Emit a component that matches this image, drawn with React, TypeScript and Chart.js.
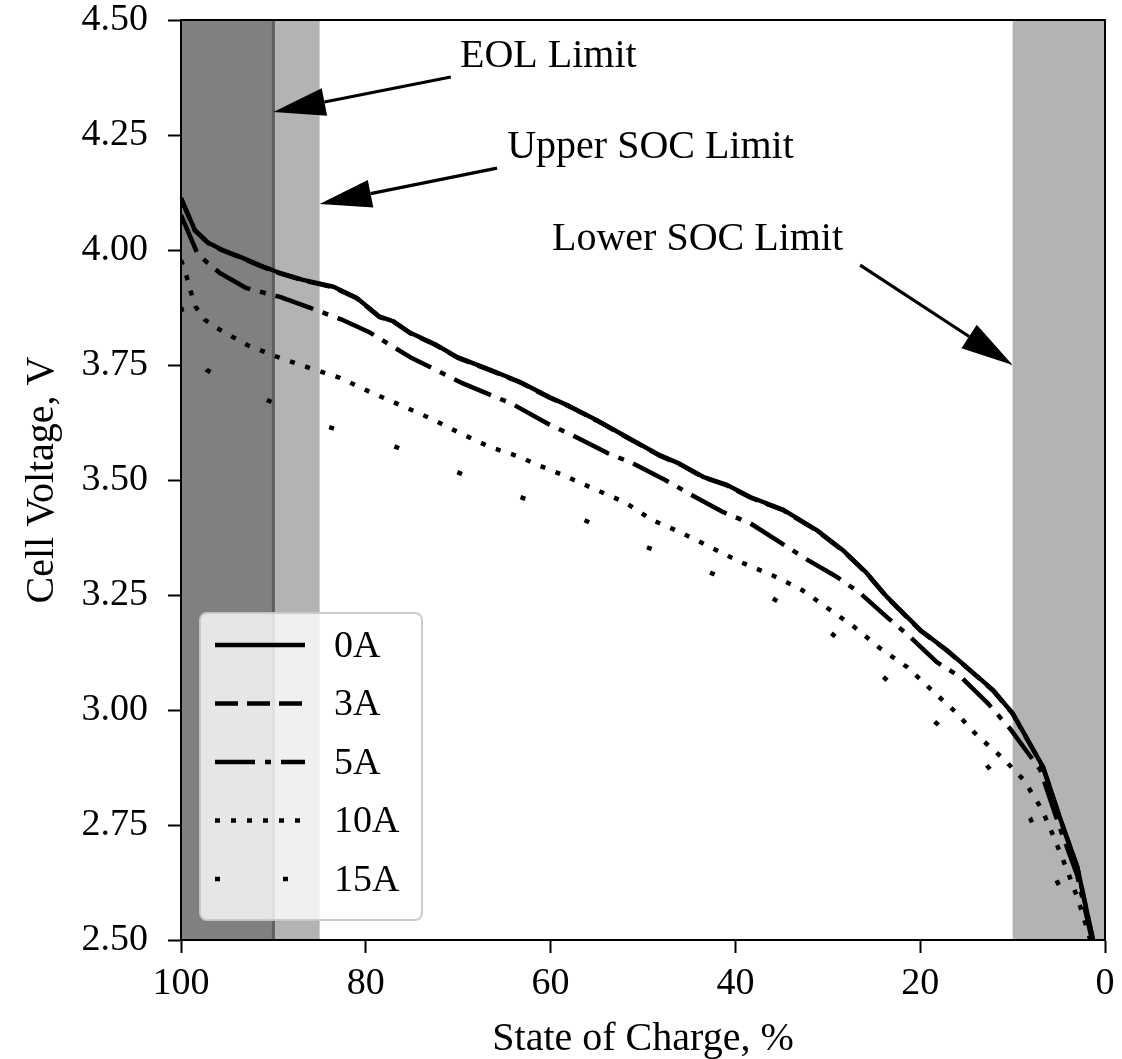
import React, { useEffect, useRef } from 'react';
import { Chart, registerables } from 'chart.js';

Chart.register(...registerables);

// ---------------- data ----------------
const seriesLabels = ['0A', '3A', '5A', '10A', '15A'];

const soc0A = [100, 98.5, 97, 95.5, 93.6, 91.5, 89.3, 86.8, 83.5, 81, 78.5, 77, 75.2, 72.5, 70.1, 66.6, 63.3, 60.1, 57.9, 55, 51.7, 48.2, 46, 43.5, 41, 38.4, 34.8, 31.2, 28.4, 25.8, 23.6, 20, 17.1, 14.5, 12.1, 10, 8.5, 6.7, 4.9, 3.0, 1.3];
const volt0A = [4.113, 4.043, 4.015, 4.0, 3.985, 3.967, 3.95, 3.935, 3.92, 3.896, 3.855, 3.845, 3.82, 3.795, 3.767, 3.74, 3.713, 3.68, 3.66, 3.63, 3.593, 3.554, 3.535, 3.507, 3.49, 3.463, 3.435, 3.391, 3.348, 3.298, 3.246, 3.174, 3.13, 3.085, 3.043, 2.993, 2.94, 2.876, 2.767, 2.659, 2.5];

const soc3A = [100, 98.5, 97, 95.5, 93.6, 91.5, 89.3, 86.8, 83.5, 81, 78.5, 77, 75.2, 72.5, 70.1, 66.6, 63.3, 60.1, 57.9, 55, 51.7, 48.2, 46, 43.5, 41, 38.4, 34.8, 31.2, 28.4, 25.8, 23.6, 20, 17.1, 14.5, 12.1, 10, 8.5, 6.7, 4.9, 3.0, 1.3];
const volt3A = [4.112, 4.042, 4.014, 3.999, 3.984, 3.966, 3.949, 3.934, 3.919, 3.895, 3.854, 3.844, 3.819, 3.794, 3.766, 3.739, 3.712, 3.679, 3.659, 3.629, 3.592, 3.553, 3.534, 3.506, 3.489, 3.462, 3.434, 3.39, 3.347, 3.297, 3.245, 3.173, 3.129, 3.084, 3.042, 2.992, 2.939, 2.875, 2.766, 2.658, 2.5];

const soc5A = [100, 98.3, 97.3, 95.8, 92.9, 89.3, 86, 82.5, 79.5, 75.2, 72, 69.5, 65.2, 64.3, 60.1, 57.7, 53.9, 51.2, 47.6, 44.7, 41.3, 38.4, 35.2, 32.5, 29, 26.5, 23.6, 21.1, 18.2, 15.5, 12.7, 10.3, 8.1, 7.0, 5.0, 3.0, 1.4];
const volt5A = [4.076, 3.996, 3.975, 3.95, 3.917, 3.898, 3.874, 3.848, 3.82, 3.767, 3.735, 3.71, 3.674, 3.667, 3.62, 3.598, 3.559, 3.537, 3.5, 3.467, 3.43, 3.406, 3.365, 3.33, 3.289, 3.254, 3.202, 3.159, 3.104, 3.07, 3.015, 2.96, 2.9, 2.87, 2.75, 2.64, 2.5];

const soc10A = [100, 99.4, 99, 98.4, 97.4, 95.9, 94.4, 92.8, 89.5, 86, 82.8, 79.5, 76.3, 73.1, 69.8, 66.6, 63.3, 61.9, 58.7, 55, 52, 49, 45.8, 42.5, 39.5, 36, 32.8, 27.1, 24.4, 21.4, 18.9, 16.2, 13.9, 11.1, 8.8, 6.8, 5.4, 4.1, 2.9, 1.8, 1.6];
const volt10A = [3.978, 3.943, 3.913, 3.876, 3.848, 3.828, 3.811, 3.793, 3.767, 3.743, 3.722, 3.691, 3.663, 3.635, 3.602, 3.572, 3.55, 3.537, 3.511, 3.478, 3.452, 3.413, 3.385, 3.352, 3.322, 3.293, 3.261, 3.18, 3.135, 3.093, 3.046, 2.996, 2.946, 2.896, 2.848, 2.783, 2.717, 2.652, 2.587, 2.515, 2.5];

const soc15A = [100, 99, 98, 97.2, 94, 90.7, 84, 77, 70.1, 63.3, 56.4, 49.6, 42.9, 36, 29.8, 24, 18.4, 12.8, 8.1, 5.2, 2.0];
const volt15A = [3.876, 3.8, 3.76, 3.739, 3.705, 3.674, 3.615, 3.574, 3.517, 3.463, 3.413, 3.354, 3.3, 3.243, 3.17, 3.072, 2.974, 2.88, 2.765, 2.628, 2.5];

const xTickValues = [100, 80, 60, 40, 20, 0];
const yTickValues = [2.5, 2.75, 3.0, 3.25, 3.5, 3.75, 4.0, 4.25, 4.5];

// limits (SOC %)
const eolLimit = 90;
const upperSocLimit = 85;
const lowerSocLimit = 10;

// annotations: text anchor, arrow tail and arrow tip in data coordinates
const annotationTexts = ['EOL Limit', 'Upper SOC Limit', 'Lower SOC Limit'];
const annotationTextSoc = [69.8, 64.7, 59.85];
const annotationTextVolt = [4.398, 4.2, 4.0];
const arrowTailSoc = [70.8, 65.8, 26.5];
const arrowTailVolt = [4.376, 4.178, 3.967];
const arrowTipSoc = [eolLimit, upperSocLimit, lowerSocLimit];
const arrowTipVolt = [4.3, 4.1, 3.75];

// ---------------- styles ----------------
const FONT = "'Liberation Serif', 'Times New Roman', Times, serif";
const LW = 4.5;
const dashes: number[][] = [[], [23, 9], [40, 10, 6, 10], [5, 11], [5, 63]];

const seriesSoc = [soc0A, soc3A, soc5A, soc10A, soc15A];
const seriesVolt = [volt0A, volt3A, volt5A, volt10A, volt15A];

const regionsPlugin = {
  id: 'regions',
  beforeDatasetsDraw(chart: any) {
    const { ctx, chartArea: ca, scales } = chart;
    const x = scales.x;
    ctx.save();
    const fill = (a: number, b: number, color: string) => {
      const x0 = x.getPixelForValue(a);
      const x1 = x.getPixelForValue(b);
      ctx.fillStyle = color;
      ctx.fillRect(Math.min(x0, x1), ca.top, Math.abs(x1 - x0), ca.bottom - ca.top);
    };
    fill(100, upperSocLimit, '#b3b3b3');
    fill(100, eolLimit, '#808080');
    fill(lowerSocLimit, 0, '#b3b3b3');
    const xe = x.getPixelForValue(eolLimit);
    ctx.strokeStyle = '#5e5e5e';
    ctx.lineWidth = 3;
    ctx.beginPath();
    ctx.moveTo(xe, ca.top);
    ctx.lineTo(xe, ca.bottom);
    ctx.stroke();
    ctx.restore();
  },
};

function drawArrow(ctx: CanvasRenderingContext2D, x0: number, y0: number, x1: number, y1: number) {
  const ang = Math.atan2(y1 - y0, x1 - x0);
  const headLen = 52;
  const headHalf = 14;
  const bx = x1 - headLen * Math.cos(ang);
  const by = y1 - headLen * Math.sin(ang);
  ctx.strokeStyle = '#000';
  ctx.lineWidth = 3.2;
  ctx.lineCap = 'butt';
  ctx.beginPath();
  ctx.moveTo(x0, y0);
  ctx.lineTo(bx, by);
  ctx.stroke();
  ctx.fillStyle = '#000';
  ctx.beginPath();
  ctx.moveTo(x1, y1);
  ctx.lineTo(bx + headHalf * Math.sin(ang), by - headHalf * Math.cos(ang));
  ctx.lineTo(bx - headHalf * Math.sin(ang), by + headHalf * Math.cos(ang));
  ctx.closePath();
  ctx.fill();
}

const overlayPlugin = {
  id: 'overlay',
  afterDatasetsDraw(chart: any) {
    const { ctx, chartArea: ca, scales } = chart;
    const x = scales.x;
    const y = scales.y;
    ctx.save();
    // frame
    ctx.strokeStyle = '#000';
    ctx.lineWidth = 2;
    ctx.strokeRect(ca.left, ca.top, ca.right - ca.left, ca.bottom - ca.top);

    // annotations
    ctx.font = `40px ${FONT}`;
    ctx.textAlign = 'left';
    ctx.textBaseline = 'alphabetic';
    for (let i = 0; i < annotationTexts.length; i++) {
      ctx.fillStyle = '#000';
      ctx.fillText(annotationTexts[i], x.getPixelForValue(annotationTextSoc[i]), y.getPixelForValue(annotationTextVolt[i]));
      drawArrow(
        ctx,
        x.getPixelForValue(arrowTailSoc[i]),
        y.getPixelForValue(arrowTailVolt[i]),
        x.getPixelForValue(arrowTipSoc[i]),
        y.getPixelForValue(arrowTipVolt[i])
      );
    }

    // legend
    const bx = ca.left + 19;
    const bw = 222;
    const bh = 307;
    const by = ca.bottom - 20 - bh;
    ctx.beginPath();
    ctx.roundRect(bx, by, bw, bh, 7);
    ctx.fillStyle = 'rgba(255,255,255,0.8)';
    ctx.fill();
    ctx.strokeStyle = 'rgba(200,200,200,0.9)';
    ctx.lineWidth = 2;
    ctx.stroke();
    ctx.font = `38px ${FONT}`;
    ctx.textBaseline = 'middle';
    for (let i = 0; i < seriesLabels.length; i++) {
      const cy = by + 32 + i * 58.5;
      ctx.strokeStyle = '#000';
      ctx.lineWidth = LW;
      ctx.lineCap = 'butt';
      ctx.setLineDash(dashes[i]);
      ctx.beginPath();
      ctx.moveTo(bx + 15, cy);
      ctx.lineTo(bx + 105, cy);
      ctx.stroke();
      ctx.setLineDash([]);
      ctx.fillStyle = '#000';
      ctx.fillText(seriesLabels[i], bx + 134, cy + 2);
    }
    ctx.restore();
  },
};

export default function App() {
  const ref = useRef<HTMLCanvasElement | null>(null);
  useEffect(() => {
    document.body.style.margin = '0';
    document.body.style.overflow = 'hidden';
    const canvas = ref.current;
    if (!canvas) return;
    const datasets = seriesLabels.map((label, i) => ({
      label,
      data: seriesSoc[i].map((s, j) => ({ x: s, y: seriesVolt[i][j] })),
      borderColor: '#000',
      backgroundColor: '#000',
      borderWidth: LW,
      borderDash: dashes[i],
      borderCapStyle: 'butt' as const,
      borderJoinStyle: 'round' as const,
      pointRadius: 0,
      tension: 0,
      fill: false,
    }));
    const chart = new Chart(canvas, {
      type: 'line',
      data: { datasets },
      plugins: [regionsPlugin, overlayPlugin],
      options: {
        responsive: false,
        animation: false,
        devicePixelRatio: 1,
        layout: { padding: { top: 20, right: 17, bottom: 0, left: 0 } },
        plugins: { legend: { display: false }, tooltip: { enabled: false } },
        scales: {
          x: {
            type: 'linear',
            min: 0,
            max: 100,
            reverse: true,
            afterFit: (s: any) => { s.height = 119; s.paddingLeft = 0; s.paddingRight = 0; },
            afterBuildTicks: (s: any) => { s.ticks = xTickValues.map((v) => ({ value: v })); },
            ticks: {
              color: '#000',
              padding: 12,
              maxRotation: 0,
              font: { family: FONT, size: 38, lineHeight: 1 },
              callback: (v: any) => String(v),
            },
            grid: { drawOnChartArea: false, drawTicks: true, tickLength: 13, tickWidth: 2, tickColor: '#000' },
            border: { display: true, color: '#000', width: 2 },
            title: {
              display: true,
              text: 'State of Charge, %',
              color: '#000',
              font: { family: FONT, size: 40, lineHeight: 1 },
              padding: { top: 0, bottom: 0 },
            },
          },
          y: {
            type: 'linear',
            min: 2.5,
            max: 4.5,
            afterFit: (s: any) => { s.width = 181; s.paddingTop = 0; s.paddingBottom = 0; },
            afterBuildTicks: (s: any) => { s.ticks = yTickValues.map((v) => ({ value: v })); },
            ticks: {
              color: '#000',
              padding: 20,
              font: { family: FONT, size: 38, lineHeight: 1 },
              callback: (v: any) => Number(v).toFixed(2),
            },
            grid: { drawOnChartArea: false, drawTicks: true, tickLength: 13, tickWidth: 2, tickColor: '#000' },
            border: { display: true, color: '#000', width: 2 },
            title: {
              display: true,
              text: 'Cell Voltage, V',
              color: '#000',
              font: { family: FONT, size: 40, lineHeight: 1.2 },
              padding: { top: 18, bottom: 0 },
            },
          },
        },
      },
    });
    return () => chart.destroy();
  }, []);
  return <canvas ref={ref} width={1122} height={1059} style={{ display: 'block', width: 1122, height: 1059 }} />;
}
